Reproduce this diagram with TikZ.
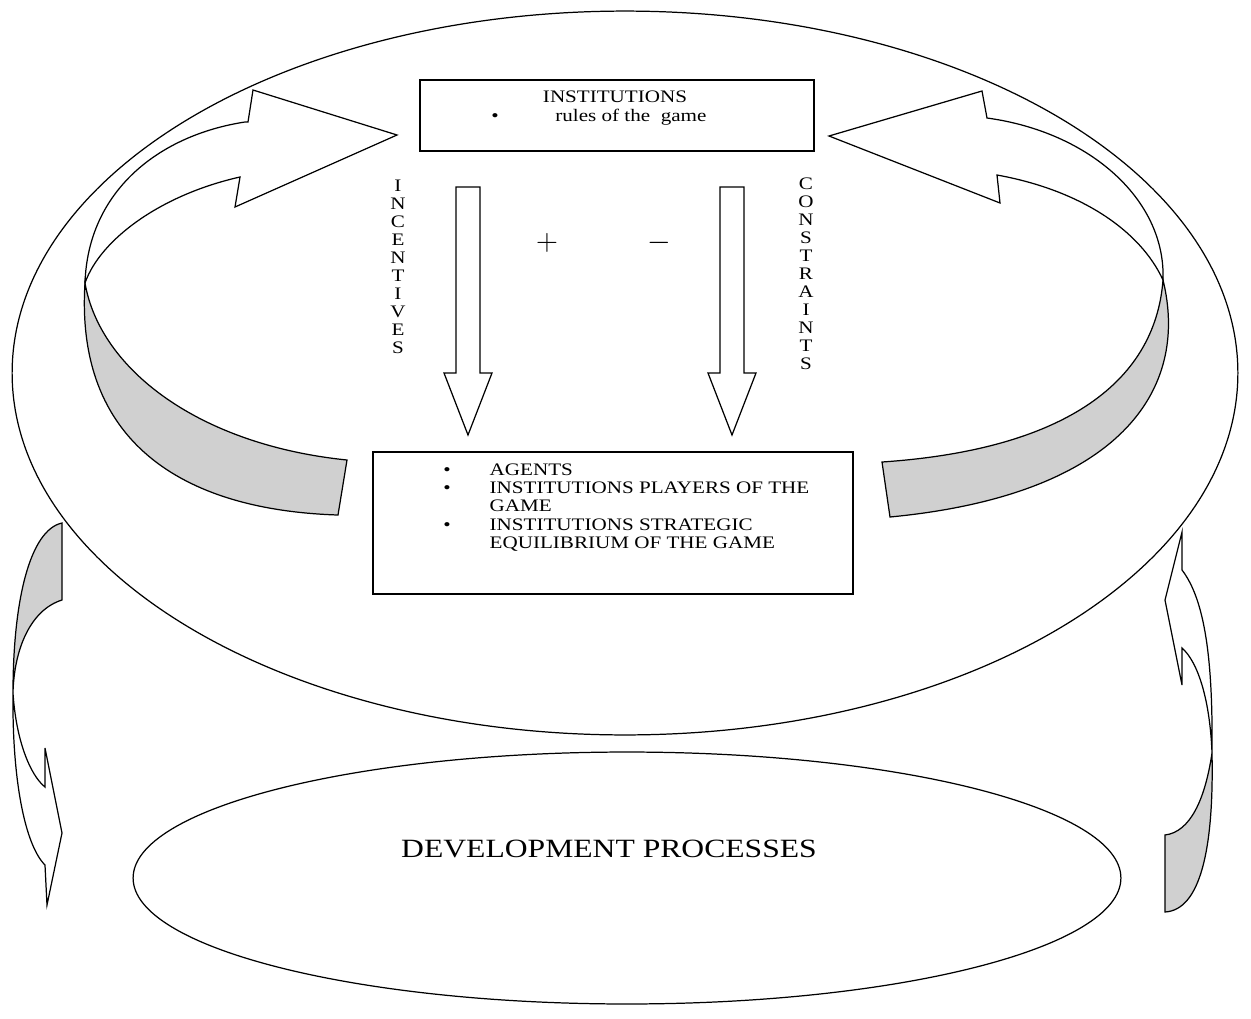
\documentclass[tikz,border=0pt]{standalone}
\usepackage{fontspec}
\newfontfamily\figfont[FakeStretch=1.2]{Liberation Serif}
\usetikzlibrary{shapes.geometric}
\definecolor{ribbongray}{RGB}{208,208,208}
\tikzstyle{panel} = [draw, fill=white, rectangle, line width=0.7pt, inner sep=0pt]
\tikzstyle{oval} = [draw, ellipse, line width=0.7pt, inner sep=0pt]
\tikzstyle{txt} = [inner sep=0pt, font=\figfont\fontsize{10}{10.5}\selectfont]
\tikzstyle{stack} = [txt, align=center, anchor=north, font=\figfont\fontsize{10}{10.2}\selectfont]
\tikzstyle{sheet} = [draw, fill=white, line width=0.7pt]
\tikzstyle{band} = [draw, fill=ribbongray, line width=0.7pt]
\tikzstyle{fatarrow} = [draw, fill=white, line width=0.7pt]
\newcommand{\fatdown}[2]{%
    \draw [fatarrow] (#1-12,#2) -- (#1+12,#2) -- (#1+12,373) -- (#1+24,373)
        -- (#1,435) -- (#1-24,373) -- (#1-12,373) -- cycle;}

\begin{document}
\begin{tikzpicture}[x=0.02cm, y=-0.02cm]
        \useasboundingbox (0,0) rectangle (1251,1018);

        \node [oval, minimum width=24.52cm, minimum height=14.48cm] (world) at (625,373) {};
        \node [oval, minimum width=19.76cm, minimum height=5.04cm] (dev) at (627,878) {};
        \node [txt, anchor=base, font=\figfont\fontsize{15}{18}\selectfont] (devtxt) at (609,857) {DEVELOPMENT PROCESSES};

        \draw [sheet] (85,283) .. controls (88,190) and (160,135) .. (245,122) -- (248,122) -- (253,90)
            -- (397,135) -- (235,207) -- (240,177) .. controls (160,195) and (100,240) .. (85,283) -- cycle;
        \draw [band] (85,283) .. controls (75,440) and (180,510) .. (338,515) -- (347,460)
            .. controls (200,445) and (100,370) .. (85,283) -- cycle;

        \draw [sheet] (1163,280) .. controls (1166,200) and (1090,132) .. (987,118) -- (982,91)
            -- (829,136) -- (1000,203) -- (997,175) .. controls (1080,190) and (1140,230) .. (1163,280) -- cycle;
        \draw [band] (1163,280) .. controls (1190,390) and (1120,495) .. (890,517) -- (882,462)
            .. controls (1060,450) and (1155,385) .. (1163,280) -- cycle;

        \draw [band] (62,523) .. controls (30,530) and (13,600) .. (13,693)
            .. controls (14,650) and (30,610) .. (62,600) -- cycle;
        \draw [sheet] (13,693) .. controls (12,780) and (25,845) .. (45,865) -- (47,905) -- (62,833)
            -- (45,748) -- (45,787) .. controls (30,775) and (16,740) .. (13,693) -- cycle;

        \draw [sheet] (1182,532) -- (1165,600) -- (1182,685) -- (1182,648)
            .. controls (1198,662) and (1210,700) .. (1212,753) .. controls (1213,660) and (1205,600) .. (1182,570) -- cycle;
        \draw [band] (1212,753) .. controls (1214,850) and (1200,910) .. (1165,912) -- (1165,835)
            .. controls (1190,832) and (1205,800) .. (1212,753) -- cycle;

        \node [panel, minimum width=7.88cm, minimum height=1.42cm] (rules) at (617,115.5) {};
        \node [txt, anchor=base] (inst) at (615,102.7) {INSTITUTIONS};
        \node [txt, anchor=base] (dot) at (495,121.5) {\textbullet};
        \node [txt, anchor=base west] (game) at (555,121.5) {rules of the\ \ game};

        \node [panel, minimum width=9.6cm, minimum height=2.84cm] (agents) at (613,523) {};
        \node [txt, anchor=base west] (players) at (443,475) {\begin{tabular}[t]{@{}l@{\hspace{0.78cm}}l@{}}
            \textbullet & AGENTS\\
            \textbullet & INSTITUTIONS PLAYERS OF THE\\
                        & GAME\\
            \textbullet & INSTITUTIONS STRATEGIC\\
                        & EQUILIBRIUM OF THE GAME
        \end{tabular}};

        \fatdown{468}{187}
        \fatdown{732}{187}

        \node [stack] (incent) at (398,180) {I\\N\\C\\E\\N\\T\\I\\V\\E\\S};
        \node [stack] (constr) at (806,178) {C\\O\\N\\S\\T\\R\\A\\I\\N\\T\\S};
        \node [txt, font=\fontsize{16}{18}\selectfont] (plus) at (547,243) {$+$};
        \node [txt, font=\fontsize{16}{18}\selectfont] (minus) at (659,243) {$-$};
\end{tikzpicture}
\end{document}
